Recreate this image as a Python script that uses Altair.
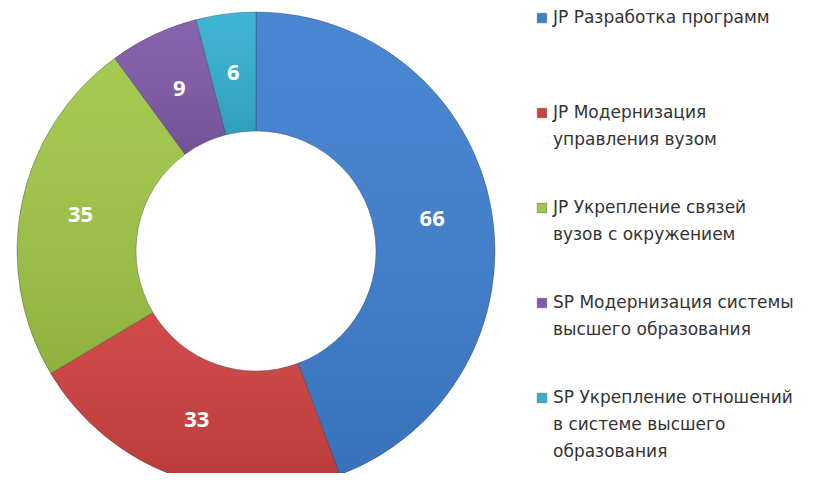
import altair as alt
import pandas as pd

categories = [
    "JP Разработка программ",
    "JP Модернизация управления вузом",
    "JP Укрепление связей вузов с окружением",
    "SP Модернизация системы высшего образования",
    "SP Укрепление отношений в системе высшего образования",
]
legend_labels = [
    "JP Разработка программ",
    "JP Модернизация\nуправления вузом",
    "JP Укрепление связей\nвузов с окружением",
    "SP Модернизация системы\nвысшего образования",
    "SP Укрепление отношений\nв системе высшего\nобразования",
]
values = [66, 33, 35, 9, 6]
order = [0, 1, 2, 3, 4]
colors = ["#3f7fd0", "#cc403d", "#9fc646", "#7f5aa8", "#33b0d0"]

df = pd.DataFrame({"cat": categories, "label": legend_labels, "value": values, "order": order})

CX, CY = 248, 243
R_IN, R_OUT = 120, 239

color = alt.Color("cat:N", scale=alt.Scale(domain=categories, range=colors), legend=None)
theta = alt.Theta("value:Q", stack=True)
ordr = alt.Order("order:Q")

base = alt.Chart(df)

arcs = base.mark_arc(innerRadius=R_IN, outerRadius=R_OUT, stroke="#1e2a3a",
                     strokeWidth=0.7, strokeOpacity=0.45).encode(
    theta=theta, color=color, order=ordr, x=alt.value(CX), y=alt.value(CY))

shade = base.mark_arc(innerRadius=R_IN, outerRadius=R_OUT, fill={
    "gradient": "linear", "x1": 0, "y1": 0, "x2": 0, "y2": 1,
    "stops": [{"offset": 0, "color": "rgba(255,255,255,0.06)"},
              {"offset": 1, "color": "rgba(0,0,0,0.10)"}]}).encode(
    theta=theta, order=ordr, x=alt.value(CX), y=alt.value(CY))

labels = base.mark_text(fontSize=22, fontWeight="bold", color="white", font="Open Sans").encode(
    theta=theta, radius=alt.value(179), text="value:Q", order=ordr,
    x=alt.value(CX), y=alt.value(CY))

ypos = alt.Y("order:O", axis=None, scale=alt.Scale(range=[10, 390], padding=0))

sym = base.mark_square(size=90, opacity=1, stroke="#555", strokeWidth=0.5).encode(
    x=alt.value(534), y=ypos, color=color)

txt = base.mark_text(align="left", baseline="top", fontSize=17, lineBreak="\n",
                     lineHeight=27, font="DejaVu Sans", color="#333", dy=-8).encode(
    x=alt.value(545), y=ypos, text="label:N")

chart = alt.layer(arcs, shade, labels, sym, txt).properties(
    width=812, height=465, padding=0, autosize="none"
).configure_view(stroke=None)

chart.save("out.html", embed_options={"renderer": "svg", "actions": False})
